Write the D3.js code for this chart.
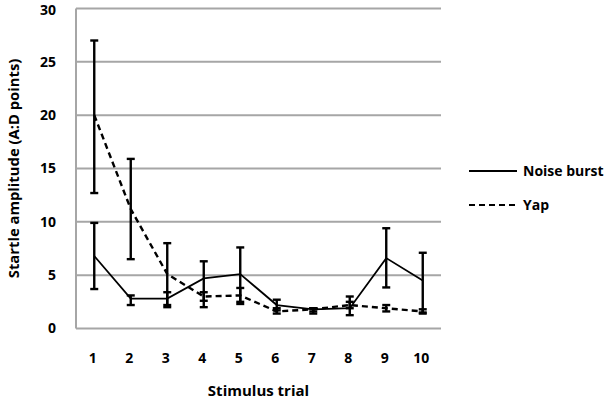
<!DOCTYPE html>
<html>
<head>
<meta charset="utf-8">
<script src="https://cdn.jsdelivr.net/npm/d3@7"></script>
<style>
  html, body { margin: 0; padding: 0; background: #fff; }
  svg { display: block; }
  text { font-family: "Open Sans", Lato, sans-serif; font-weight: bold; fill: #000; }
</style>
</head>
<body>
<svg id="chart" width="605" height="400"></svg>
<script>
const trials = [1, 2, 3, 4, 5, 6, 7, 8, 9, 10];
const yTicks = [0, 5, 10, 15, 20, 25, 30];

const noiseMean = [6.8, 2.8, 2.8, 4.7, 5.1, 2.2, 1.8, 1.9, 6.6, 4.5];
const noiseHigh = [9.9, 3.1, 3.4, 6.3, 7.6, 2.7, 1.9, 3.0, 9.4, 7.1];
const noiseLow  = [3.7, 2.2, 2.2, 2.0, 2.5, 1.7, 1.4, 1.25, 3.85, 1.5];

const yapMean = [20.0, 11.2, 5.1, 3.0, 3.1, 1.6, 1.8, 2.2, 1.9, 1.6];
const yapHigh = [27.0, 15.9, 8.0, 3.4, 3.8, 1.9, 1.9, 2.5, 2.2, 1.8];
const yapLow  = [12.7, 6.5, 2.0, 2.6, 2.3, 1.4, 1.6, 1.9, 1.6, 1.4];

const seriesNames = ["Noise burst", "Yap"];

const svg = d3.select("#chart");
const mLeft = 76, mRight = 441, mTop = 8.5, mBottom = 328.5;

const x = d3.scaleBand().domain(trials).range([mLeft, mRight]).padding(0);
const y = d3.scaleLinear().domain([0, 30]).range([mBottom, mTop]);
const cx = d => x(d) + x.bandwidth() / 2;

// gridlines
svg.append("g").selectAll("line").data(yTicks).join("line")
  .attr("x1", mLeft).attr("x2", mRight)
  .attr("y1", d => y(d)).attr("y2", d => y(d))
  .attr("stroke", "#a6a6a6").attr("stroke-width", 2);
// left axis line
svg.append("line").attr("x1", mLeft).attr("x2", mLeft)
  .attr("y1", y(30)).attr("y2", y(0))
  .attr("stroke", "#a6a6a6").attr("stroke-width", 2);

// y tick labels
svg.append("g").selectAll("text").data(yTicks).join("text")
  .attr("x", 56).attr("y", d => Math.max(y(d), 10.5)).attr("dy", "0.35em")
  .attr("text-anchor", "end").attr("font-size", 14)
  .text(d => d);

// x tick labels
svg.append("g").selectAll("text").data(trials).join("text")
  .attr("x", d => cx(d) - 1.5).attr("y", 358).attr("dy", "0.35em")
  .attr("text-anchor", "middle").attr("font-size", 14)
  .text(d => d);

// axis titles
svg.append("text").attr("x", (mLeft + mRight) / 2).attr("y", 391).attr("dy", "0.35em")
  .attr("text-anchor", "middle").attr("font-size", 15).text("Stimulus trial");
svg.append("text")
  .attr("transform", `translate(14,${(mTop + mBottom) / 2}) rotate(-90)`)
  .attr("dy", "0.35em").attr("text-anchor", "middle").attr("font-size", 14.8)
  .text("Startle amplitude (A:D points)");

const series = [
  { name: seriesNames[0], mean: noiseMean, hi: noiseHigh, lo: noiseLow, dash: null, width: 1.8 },
  { name: seriesNames[1], mean: yapMean, hi: yapHigh, lo: yapLow, dash: "6,4", width: 2.4 }
];

const line = d3.line().x(d => cx(d.t)).y(d => y(d.v));

series.forEach(s => {
  const pts = trials.map((t, i) => ({ t, v: s.mean[i], hi: s.hi[i], lo: s.lo[i] }));
  svg.append("path").datum(pts)
    .attr("d", line).attr("fill", "none").attr("stroke", "#000")
    .attr("stroke-width", s.width)
    .attr("stroke-dasharray", s.dash);
  const g = svg.append("g").attr("stroke", "#000").attr("stroke-width", 2.4);
  g.selectAll("line.v").data(pts).join("line").attr("class", "v")
    .attr("x1", d => cx(d.t)).attr("x2", d => cx(d.t))
    .attr("y1", d => y(d.hi)).attr("y2", d => y(d.lo));
  g.selectAll("line.h").data(pts).join("line").attr("class", "h")
    .attr("x1", d => cx(d.t) - 4).attr("x2", d => cx(d.t) + 4)
    .attr("y1", d => y(d.hi)).attr("y2", d => y(d.hi));
  g.selectAll("line.l").data(pts).join("line").attr("class", "l")
    .attr("x1", d => cx(d.t) - 4).attr("x2", d => cx(d.t) + 4)
    .attr("y1", d => y(d.lo)).attr("y2", d => y(d.lo));
});

// legend
const legendY = [171, 205];
series.forEach((s, i) => {
  svg.append("line").attr("x1", 469).attr("x2", 517)
    .attr("y1", legendY[i]).attr("y2", legendY[i])
    .attr("stroke", "#000").attr("stroke-width", 2.2)
    .attr("stroke-dasharray", s.dash);
  svg.append("text").attr("x", 523).attr("y", legendY[i]).attr("dy", "0.35em")
    .attr("font-size", 14).text(s.name);
});
</script>
</body>
</html>
